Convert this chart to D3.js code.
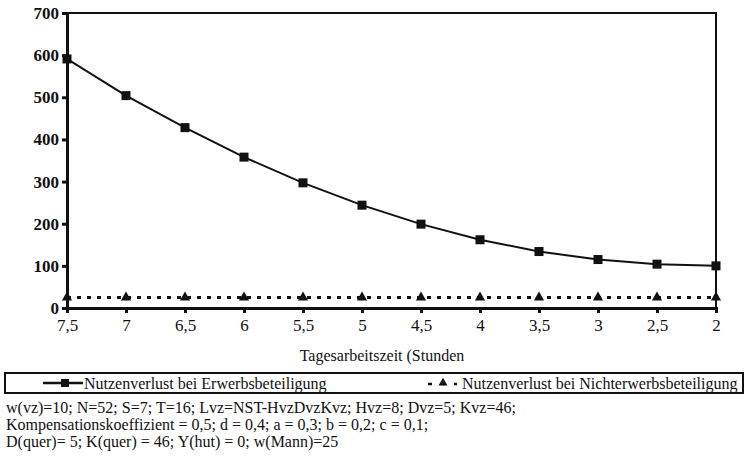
<!DOCTYPE html>
<html><head><meta charset="utf-8">
<script src="https://cdn.jsdelivr.net/npm/d3@7"></script>
</head><body style="margin:0">
<svg id="c" width="746" height="461"></svg>
<script>
const categories = ["7,5","7","6,5","6","5,5","5","4,5","4","3,5","3","2,5","2"];
const erwerb = [591, 504, 428, 358, 297, 244, 199, 162, 134, 115, 104, 100];
const nichterwerb = [25, 25, 25, 25, 25, 25, 25, 25, 25, 25, 25, 25];
const yTicks = [0,100,200,300,400,500,600,700];
const seriesNames = ["Nutzenverlust bei Erwerbsbeteiligung","Nutzenverlust bei Nichterwerbsbeteiligung"];
const xTitle = "Tagesarbeitszeit (Stunden";
const notes = ["w(vz)=10; N=52; S=7; T=16; Lvz=NST-HvzDvzKvz; Hvz=8; Dvz=5; Kvz=46;",
  "Kompensationskoeffizient = 0,5; d = 0,4; a = 0,3; b = 0,2; c = 0,1;",
  "D(quer)= 5; K(quer) = 46; Y(hut) = 0; w(Mann)=25"];

const FONT = "'Liberation Serif'";
const svg = d3.select("#c");
const L=67, R=716, T=13, B=308;
const x = d3.scalePoint().domain(categories).range([L,R]);
const y = d3.scaleLinear().domain([0,700]).range([B,T]);
const col="#111";

svg.append("rect").attr("x",0).attr("y",0).attr("width",746).attr("height",461).attr("fill","#fff");
// frame
svg.append("rect").attr("x",L).attr("y",T).attr("width",R-L).attr("height",B-T)
  .attr("fill","none").attr("stroke",col).attr("stroke-width",2);

const yAx = svg.append("g").attr("transform",`translate(${L},0)`)
  .call(d3.axisLeft(y).tickValues(yTicks).tickSize(5).tickPadding(3));
yAx.attr("font-family","Liberation Serif").attr("font-size",17);
yAx.select(".domain").attr("stroke",col).attr("stroke-width",3);
yAx.selectAll(".tick line").attr("stroke",col).attr("stroke-width",3);
yAx.selectAll("text").attr("font-weight","bold").attr("fill",col).style("font-family",FONT);

const xAx = svg.append("g").attr("transform",`translate(0,${B})`)
  .call(d3.axisBottom(x).tickSize(5).tickPadding(6));
xAx.attr("font-family","Liberation Serif").attr("font-size",17);
xAx.select(".domain").attr("stroke",col).attr("stroke-width",3);
xAx.selectAll(".tick line").attr("stroke",col).attr("stroke-width",3);
xAx.selectAll("text").attr("fill",col).style("font-family",FONT);

function txt(xp, yp, t, anchor){
  return svg.append("text").attr("x",xp).attr("y",yp).attr("text-anchor",anchor||"start")
    .attr("font-size",16).attr("fill",col).style("font-family",FONT).text(t);
}
txt(382,361,xTitle,"middle");

// series 2 dotted
const line = d3.line().x((d,i)=>x(categories[i])).y(d=>y(d));
svg.append("path").datum(nichterwerb).attr("d",line).attr("fill","none")
  .attr("stroke",col).attr("stroke-width",3).attr("stroke-dasharray","4,6");
const tri = d3.symbol().type(d3.symbolTriangle).size(45);
svg.selectAll(".tri").data(nichterwerb).join("path")
  .attr("transform",(d,i)=>`translate(${x(categories[i])},${y(d)})`).attr("d",tri()).attr("fill",col);

// series 1
svg.append("path").datum(erwerb).attr("d",line).attr("fill","none")
  .attr("stroke",col).attr("stroke-width",2);
svg.selectAll(".sq").data(erwerb).join("rect")
  .attr("x",(d,i)=>x(categories[i])-4.5).attr("y",d=>y(d)-4.5)
  .attr("width",9).attr("height",9).attr("fill",col);

// legend
svg.append("rect").attr("x",5).attr("y",373).attr("width",738).attr("height",20)
  .attr("fill","none").attr("stroke",col).attr("stroke-width",2);
svg.append("line").attr("x1",43).attr("x2",83).attr("y1",383).attr("y2",383).attr("stroke",col).attr("stroke-width",2.5);
svg.append("rect").attr("x",61).attr("y",379).attr("width",8).attr("height",8).attr("fill",col);
txt(84,389,seriesNames[0]);
svg.append("line").attr("x1",428).attr("x2",457).attr("y1",384).attr("y2",384).attr("stroke",col)
  .attr("stroke-width",2.5).attr("stroke-dasharray","4,9");
svg.append("path").attr("transform","translate(443,383)").attr("d",d3.symbol().type(d3.symbolTriangle).size(35)()).attr("fill",col);
txt(462,389,seriesNames[1]);

notes.forEach((t,i)=>txt(6,413+i*17,t));
</script>
</body></html>
